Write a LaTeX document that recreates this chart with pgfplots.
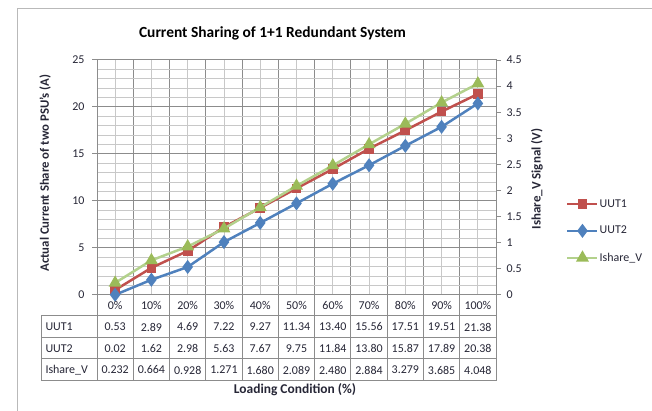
\documentclass[border=0pt]{standalone}
\usepackage{pgfplots}
\usepackage{pgfplotstable}
\pgfplotsset{compat=1.18}
\usepackage{fontspec}
\setmainfont{Carlito}
\definecolor{cRed}{HTML}{C0504D}
\definecolor{cBlue}{HTML}{4F81BD}
\definecolor{cGreen}{HTML}{9BBB59}
\definecolor{cGreenL}{HTML}{B3D18C}
\definecolor{gMaj}{HTML}{8C8C8C}
\definecolor{gMin}{HTML}{C8C8C8}
\definecolor{txt}{HTML}{262636}

\pgfplotstableread{
x UUT1 UUT2 Ishare
0 0.53 0.02 0.232
1 2.89 1.62 0.664
2 4.69 2.98 0.928
3 7.22 5.63 1.271
4 9.27 7.67 1.680
5 11.34 9.75 2.089
6 13.40 11.84 2.480
7 15.56 13.80 2.884
8 17.51 15.87 3.279
9 19.51 17.89 3.685
10 21.38 20.38 4.048
}\data

\pgfplotsset{
  uutone/.style={cRed, line width=2.5bp, mark=square*, mark size=3.6bp, mark options={solid, fill=cRed}},
  uuttwo/.style={cBlue, line width=2.5bp, mark=diamond*, mark size=5bp, mark options={solid, fill=cBlue}},
  ishare/.style={cGreenL, line width=2.5bp, mark=triangle*, mark size=5bp, mark options={solid, fill=cGreen, draw=cGreen}},
}

\begin{document}
\begin{tikzpicture}[x=1bp,y=1bp,font=\fontsize{12}{14}\selectfont]
\path[use as bounding box] (0bp,0bp) rectangle (652bp,411bp);
\draw[color=gray!55, line width=1.5bp] (17.5bp,-10bp) -- (17.5bp,402.5bp) -- (670bp,402.5bp);
\node[font=\bfseries\fontsize{15.5}{18}\selectfont] at (272.5bp,378bp) {Current Sharing of 1+1 Redundant System};

\begin{axis}[
  at={(97bp,116bp)}, anchor=south west, scale only axis,
  width=399bp, height=235bp,
  xmin=-0.5, xmax=10.5, ymin=0, ymax=25,
  xtick={-0.5,0.5,1.5,2.5,3.5,4.5,5.5,6.5,7.5,8.5,9.5,10.5}, xticklabels={},
  minor xtick={0,1,2,3,4,5,6,7,8,9,10},
  ytick={0,5,10,15,20,25}, minor y tick num=4,
  grid=both,
  major grid style={gMaj, line width=1bp},
  minor grid style={gMin, line width=0.9bp},
  axis line style={gMaj, line width=1bp},
  xtick style={draw=none},
  minor tick length=0pt,
  ytick pos=left, tick align=outside, major tick length=5bp,
  ytick style={gMaj, line width=1bp},
  yticklabel style={font=\fontsize{12}{14}\selectfont, text=txt, xshift=-4bp},
  /pgf/number format/assume math mode=true,
]
\addplot[uutone] table[x=x, y=UUT1]{\data};
\addplot[uuttwo] table[x=x, y=UUT2]{\data};
\end{axis}

\begin{axis}[
  at={(97bp,116bp)}, anchor=south west, scale only axis,
  width=399bp, height=235bp,
  xmin=-0.5, xmax=10.5, ymin=0, ymax=4.5,
  axis x line=none, axis y line*=right,
  ytick={0,0.5,1,1.5,2,2.5,3,3.5,4,4.5},
  tick align=outside, major tick length=5bp,
  axis line style={gMaj, line width=1bp},
  ytick style={gMaj, line width=1bp},
  yticklabel style={font=\fontsize{12}{14}\selectfont, text=txt, xshift=2bp},
  /pgf/number format/assume math mode=true,
  legend style={at={(1.168,0.42)}, anchor=north west, draw=none, fill=none,
    font=\fontsize{12}{14}\selectfont, text=txt, row sep=15.5bp,
    nodes={inner sep=1bp}},
  legend cell align=left,
  legend image code/.code={\draw[mark repeat=2, mark phase=2] plot coordinates {(0bp,0bp) (15bp,0bp) (30bp,0bp)};},
]
\addlegendimage{uutone}\addlegendentry{UUT1}
\addlegendimage{uuttwo}\addlegendentry{UUT2}
\addplot[ishare] table[x=x, y=Ishare]{\data};
\addlegendentry{Ishare\_V}
\end{axis}

% axis titles
\node[rotate=90, font=\bfseries\fontsize{12.8}{14}\selectfont, text=txt] at (45bp,238bp) {Actual Current Share of two PSU's (A)};
\node[rotate=90, font=\bfseries\fontsize{13}{14}\selectfont, text=txt] at (537bp,232bp) {Ishare\_V Signal (V)};
\node[font=\bfseries\fontsize{13.5}{15}\selectfont, text=txt] at (295bp,21bp) {Loading Condition (\%)};

% data table
\foreach \i in {0,...,11} {
  \pgfmathsetmacro{\xb}{97+\i*399/11}
  \draw[gMaj, line width=1bp] (\xb bp,116bp) -- (\xb bp,30bp);
}
\draw[gMaj, line width=1bp] (41bp,95bp) -- (41bp,30bp);
\foreach \yy in {95,73,52,30} \draw[gMaj, line width=1bp] (41bp,\yy bp) -- (496bp,\yy bp);
\node[anchor=west, text=txt] at (42bp,84bp) {UUT1};
\node[anchor=west, text=txt] at (42bp,62.5bp) {UUT2};
\node[anchor=west, text=txt] at (42bp,41bp) {Ishare\_V};
\foreach \i in {0,...,10} {
  \pgfmathtruncatemacro{\pc}{\i*10}
  \pgfmathsetmacro{\xc}{97+(\i+0.5)*399/11}
  \node[text=txt] at (\xc bp,105.5bp) {\pc\%};
  \pgfplotstablegetelem{\i}{UUT1}\of\data
  \node[text=txt] at (\xc bp,84bp) {\pgfplotsretval};
  \pgfplotstablegetelem{\i}{UUT2}\of\data
  \node[text=txt] at (\xc bp,62.5bp) {\pgfplotsretval};
  \pgfplotstablegetelem{\i}{Ishare}\of\data
  \node[text=txt] at (\xc bp,41bp) {\pgfplotsretval};
}
\end{tikzpicture}
\end{document}
